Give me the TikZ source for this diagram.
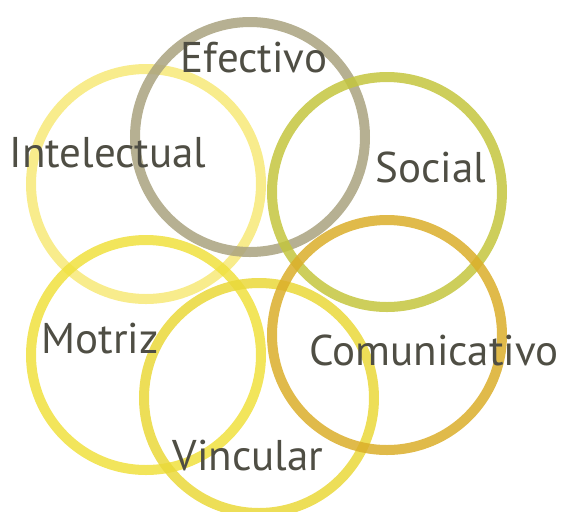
\documentclass[tikz,border=0pt]{standalone}
\usepackage{fontspec}
\setmainfont{PT Sans}
\usetikzlibrary{positioning}
\definecolor{cEfectivo}{HTML}{A9A27F}
\definecolor{cIntelectual}{HTML}{F7E978}
\definecolor{cSocial}{HTML}{C4C63E}
\definecolor{cComunicativo}{HTML}{DBAE2A}
\definecolor{cMotriz}{HTML}{F0E03E}
\definecolor{cVincular}{HTML}{EAD839}
\definecolor{texto}{HTML}{4F4E44}
\tikzset{
  aro/.style={line width=5pt, draw opacity=0.85},
  etiqueta/.style={text=texto, font=\fontsize{21.5}{21.5}\selectfont, inner sep=0pt, anchor=base}
}

\begin{document}
\begin{tikzpicture}[x=0.5pt,y=-0.5pt]
\useasboundingbox (0,0) rectangle (563,511);
\pgfmathsetmacro{\radio}{115}
\coordinate (cI) at (146,184);
\coordinate (cE) at (250,137);
\coordinate (cS) at (387,192);
\coordinate (cC) at (387,335);
\coordinate (cM) at (146,355);
\coordinate (cV) at (259,398);
\draw[aro, cIntelectual] (cI) circle (\radio);
\draw[aro, cMotriz] (cM) circle (\radio);
\draw[aro, cVincular] (cV) circle (\radio);
\draw[aro, cEfectivo] (cE) circle (\radio);
\draw[aro, cSocial] (cS) circle (\radio);
\draw[aro, cComunicativo] (cC) circle (\radio);
\node[etiqueta] (efectivo) at (254,72) {Efectivo};
\node[etiqueta] (intelectual) at (108,167) {Intelectual};
\node[etiqueta] (social) at (431,182) {Social};
\node[etiqueta] (motriz) at (100,353) {Motriz};
\node[etiqueta] (comunicativo) at (434,365) {Comunicativo};
\node[etiqueta] (vincular) at (248,470) {Vincular};
\end{tikzpicture}
\end{document}
